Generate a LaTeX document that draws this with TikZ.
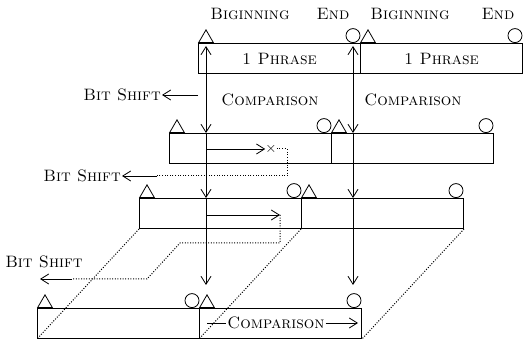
\documentclass[tikz,border=0pt]{standalone}
\usepackage{tikz}
\usetikzlibrary{calc,positioning,arrows.meta,shapes.geometric}
\tikzset{
>={Straight Barb[length=8pt,width=10pt]},
  phrase/.style={
    rectangle,
    draw=black, line width=1pt,
    minimum width=162pt,
    minimum height=30pt,
    inner sep=0pt,
    font=\fontsize{16.5}{18}\selectfont\scshape,
    anchor=north west},
  beg/.style={
    regular polygon, regular polygon sides=3,
    draw, line width=0.8pt,
    minimum size=17pt, inner sep=0pt,
    anchor=south},
  fin/.style={
    circle, draw, line width=0.8pt,
    minimum size=14pt, inner sep=0pt,
    anchor=south},
  conn/.style={draw, line width=0.8pt},
  dots/.style={draw, line width=1pt, dash pattern=on 1pt off 1.6pt},
  txt/.style={font=\fontsize{16.5}{18}\selectfont\scshape, inner sep=1pt},
}
\begin{document}
\begin{tikzpicture}[x=1pt,y=-1pt]
  \useasboundingbox (0,0) rectangle (523,342);
  % phrases, one row per shift
  \node[phrase] (p1a) at (198,43) {1 Phrase};
  \node[phrase] (p1b) at (360,43) {1 Phrase};
  \node[phrase] (p2a) at (169,133) {};
  \node[phrase] (p2b) at (331,133) {};
  \node[phrase] (p3a) at (139,198) {};
  \node[phrase] (p3b) at (301,198) {};
  \node[phrase] (p4a) at (37,308) {};
  \node[phrase] (p4b) at (199,308) {};
  \foreach \b in {p1a,p1b,p2a,p2b,p3a,p3b,p4a,p4b} {
    \node[beg] (\b s) at ($(\b.north west)+(8,0)$) {};
    \node[fin] (\b e) at ($(\b.north east)+(-8,0)$) {};
  }
  % head labels
  \node[txt] (big1) at (250,14) {Biginning};
  \node[txt] (end1) at (333,14) {End};
  \node[txt] (big2) at (410,14) {Biginning};
  \node[txt] (end2) at (498,14) {End};
  \node[txt] (cmp1) at (270,100) {Comparison};
  \node[txt] (cmp2) at (413,100) {Comparison};
  % comparison lines
  \coordinate (stop) at (0,285);
  \coordinate (va) at ($(p1as.south)+(0,3)$);
  \coordinate (vb) at ($(p1ae.south)+(0,3)$);
  \foreach \v in {va,vb} {
    \draw[conn,<->] (\v) -- (\v |- p2a.north);
    \draw[conn,->] (\v |- p2a.north) -- (\v |- p3a.north);
    \draw[conn,->] (\v |- p3a.north) -- (\v |- stop);
  }
  % bit shifts
  \node[txt, anchor=east] (bs1) at (162,95) {Bit Shift};
  \coordinate (k1) at (198,95);
  \draw[conn,->] (k1) -- (bs1.east);

  \node[inner sep=0pt, font=\Large] (miss) at (271,149) {$\times$};
  \draw[conn,->] (va |- miss) -- (miss.west);
  \node[txt, anchor=east] (bs2) at (122,176) {Bit Shift};
  \coordinate (k2) at (157,176);
  \draw[dots] (miss.east) -| (287,176) -- (k2);
  \draw[conn,->] (k2) -- (bs2.east);

  \coordinate (h3) at (280,215);
  \draw[conn,->] (va |- h3) -- (h3);
  \node[txt] (bs3) at (44,262) {Bit Shift};
  \coordinate (k3) at (72,279);
  \coordinate (t3) at (40,279);
  \draw[dots] (h3) -- (280,243) -- (180,243) -- (147,279) -- (k3);
  \draw[conn,->] (k3) -- (t3);

  \draw[dots] (p3a.south west) -- (p4a.south west);
  \draw[dots] (p3b.south west) -- (p4b.south west);
  \draw[dots] (p3b.south east) -- (p4b.south east);

  \node[txt] (cmp3) at (276,323) {Comparison};
  \coordinate (c1) at (207,323);
  \coordinate (c2) at (358,323);
  \draw[conn] (c1) -- (cmp3.west);
  \draw[conn,->] (cmp3.east) -- (c2);
\end{tikzpicture}
\end{document}
